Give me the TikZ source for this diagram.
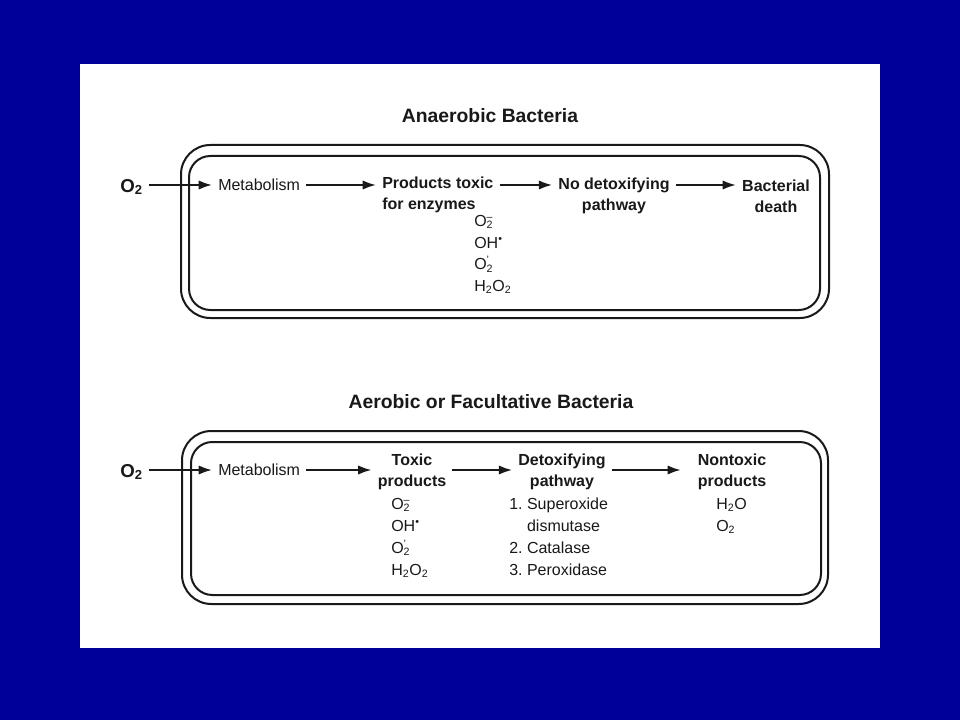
\documentclass[tikz,border=0pt]{standalone}
\usepackage{fontspec}
\setmainfont{Liberation Sans}
\usetikzlibrary{arrows.meta,calc}
\definecolor{slideblue}{RGB}{0,0,153}
\definecolor{ink}{RGB}{25,25,25}
\newcommand\supsub[2]{\rlap{\textsuperscript{#1}}\textsubscript{#2}}
\frenchspacing
\begin{document}
\begin{tikzpicture}[x=0.75pt,y=-0.75pt,
  lbl/.style={inner sep=0pt, text=ink, font=\fontsize{12}{15}\selectfont},
  hdr/.style={inner sep=0pt, text=ink, align=center, font=\bfseries\fontsize{12}{16}\selectfont},
  lst/.style={inner sep=0pt, text=ink, align=left, font=\fontsize{12}{16.5}\selectfont},
  ttl/.style={inner sep=0pt, text=ink, font=\bfseries\fontsize{14.5}{17}\selectfont},
  oxy/.style={inner sep=0pt, text=ink, font=\bfseries\fontsize{14}{16}\selectfont},
  flow/.style={-{Latex[length=10pt,width=7pt]}, line width=1.5pt, draw=ink, shorten <=4.5pt, shorten >=4.5pt},
  outerwall/.style={draw=ink, line width=1.5pt, rounded corners=22pt},
  innerwall/.style={draw=ink, line width=1.5pt, rounded corners=16pt}
]
% background
\fill[slideblue] (0,0) rectangle (960,720);
\fill[white] (80,64) rectangle (880,648);

% ---------- Anaerobic ----------
\node[ttl] (t1) at (490,116) {Anaerobic Bacteria};
\draw[outerwall] (181,145) rectangle (829,318);
\draw[innerwall] (189,156) rectangle (820,310);

\node[oxy, anchor=east] (o2a) at (143,187) {O\textsubscript{2}};
\node[lbl, anchor=west] (meta1) at (218,185) {Metabolism};
\node[hdr, align=left, anchor=west] (prod1) at (382,195) {Products toxic\\for enzymes};
\node[hdr] (nodet) at (614,196) {No detoxifying\\pathway};
\node[hdr] (death) at (776,196) {Bacterial\\death};
\node[lst, anchor=north west, font=\fontsize{12}{16.2}\selectfont] (mol1) at (474,215)
  {O\supsub{--}{2}\\OH\textsuperscript{•}\\O\supsub{’}{2}\\H\textsubscript{2}O\textsubscript{2}};

\draw[flow] (o2a.east |- meta1.west) -- (meta1.west);
\draw[flow] (meta1.east) -- (meta1.east -| prod1.west);
\draw[flow] (prod1.east |- meta1.east) -- (nodet.west |- meta1.east);
\draw[flow] (nodet.east |- meta1.east) -- (death.west |- meta1.east);

% ---------- Aerobic ----------
\node[ttl] (t2) at (491,402) {Aerobic or Facultative Bacteria};
\draw[outerwall] (182,431) rectangle (828,604);
\draw[innerwall] (191,442) rectangle (821,595);

\node[oxy, anchor=east] (o2b) at (143,472) {O\textsubscript{2}};
\node[lbl, anchor=west] (meta2) at (218,470) {Metabolism};
\node[hdr] (tox) at (412,472) {Toxic\\products};
\node[hdr] (detox) at (562,472) {Detoxifying\\pathway};
\node[hdr] (nontox) at (732,472) {Nontoxic\\products};
\node[lst, anchor=north west] (mol2) at (391,498)
  {O\supsub{--}{2}\\OH\textsuperscript{•}\\O\supsub{’}{2}\\H\textsubscript{2}O\textsubscript{2}};
\node[lst, anchor=north west] (enz) at (509,498)
  {1. Superoxide\\\phantom{1. }dismutase\\2. Catalase\\3. Peroxidase};
\node[lst, anchor=north west] (safe) at (716,498)
  {H\textsubscript{2}O\\O\textsubscript{2}};

\draw[flow] (o2b.east |- meta2.west) -- (meta2.west);
\draw[flow] (meta2.east) -- (meta2.east -| tox.west);
\draw[flow] (tox.east |- meta2.east) -- (detox.west |- meta2.east);
\draw[flow] (detox.east |- meta2.east) -- ([xshift=-8pt]nontox.west |- meta2.east);
\end{tikzpicture}
\end{document}
